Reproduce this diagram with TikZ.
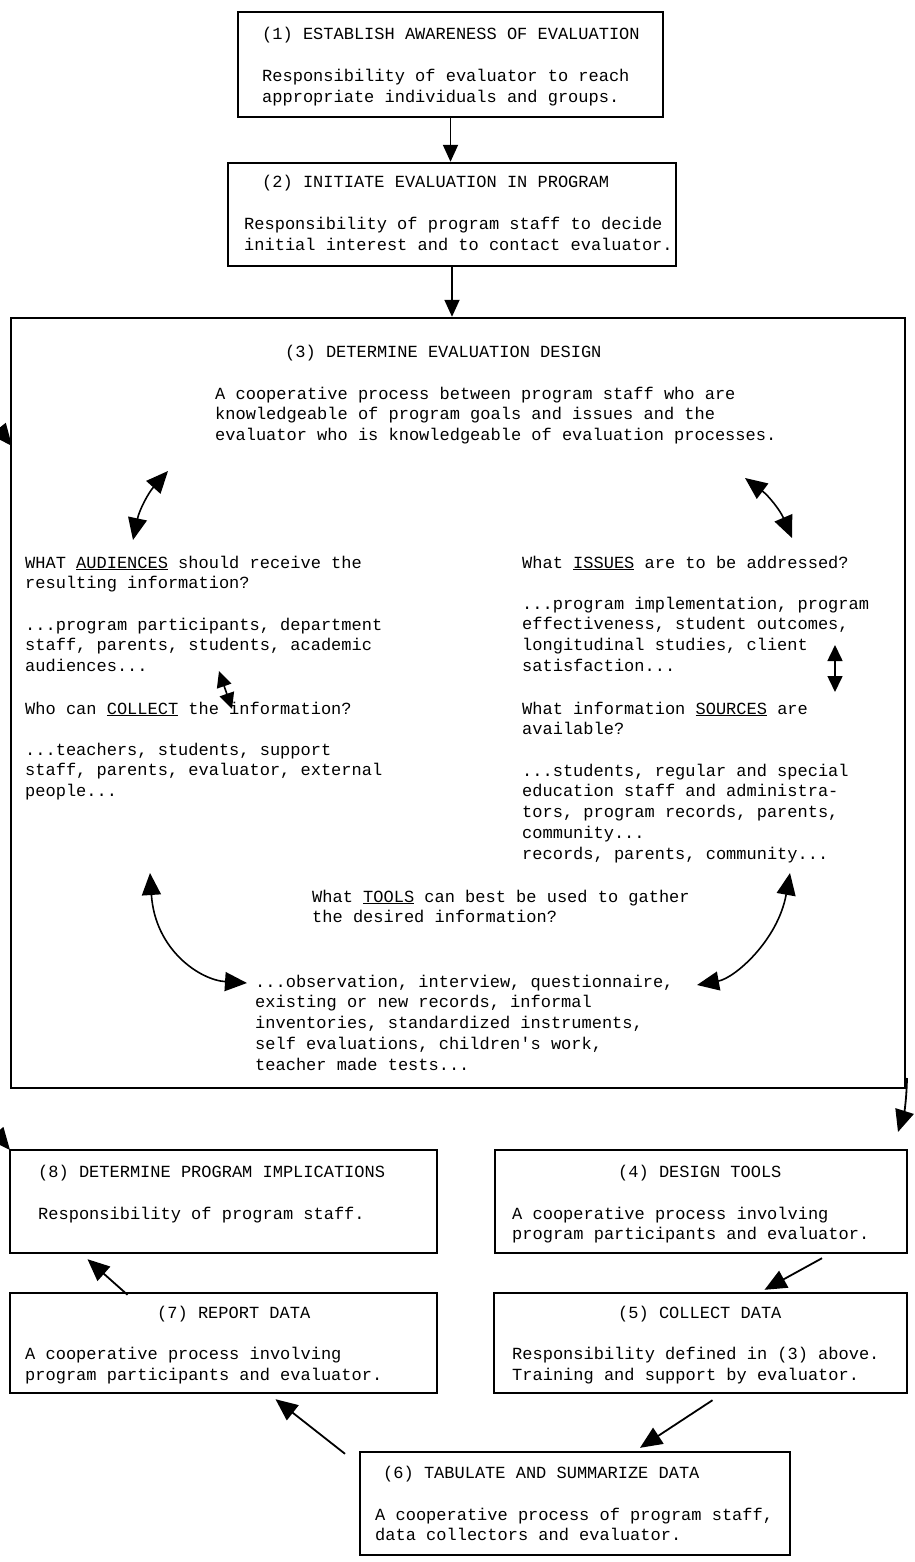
\documentclass[tikz,border=0pt]{standalone}
\usepackage{fontspec}
\newfontfamily\tw{Liberation Mono}
\usetikzlibrary{arrows.meta,calc}
\begin{document}
\begin{tikzpicture}[x=1pt,y=-1pt,
  boxst/.style={draw,line width=2.4pt,inner sep=0pt},
  txt/.style={font=\tw\fontsize{17}{20.8}\selectfont, anchor=base west, inner sep=0pt, align=left},
  flow/.style={line width=1.8pt, -{Triangle[length=17pt,width=15pt]}},
  bigflow/.style={line width=1.8pt, -{Triangle[length=22pt,width=19pt]}},
  dbl/.style={line width=1.6pt, {Triangle[length=22pt,width=19pt]}-{Triangle[length=22pt,width=19pt]}},
  sdbl/.style={line width=1.6pt, {Triangle[length=16pt,width=15pt]}-{Triangle[length=16pt,width=15pt]}},
]
\useasboundingbox (0,0) rectangle (914,1562);
\clip (0,0) rectangle (914,1562);

% boxes
\node[boxst, minimum width=425pt, minimum height=105pt] (b1) at (450.5,64.5) {};
\node[boxst, minimum width=448pt, minimum height=103pt] (b2) at (452,214.5) {};
\node[boxst, minimum width=894pt, minimum height=770pt] (b3) at (458,703) {};
\node[boxst, minimum width=427pt, minimum height=103pt] (b8) at (223.5,1201.5) {};
\node[boxst, minimum width=412pt, minimum height=103pt] (b4) at (701,1201.5) {};
\node[boxst, minimum width=427pt, minimum height=100pt] (b7) at (223.5,1343) {};
\node[boxst, minimum width=413pt, minimum height=100pt] (b5) at (700.5,1343) {};
\node[boxst, minimum width=430pt, minimum height=103pt] (b6) at (575,1503.5) {};

% box 1 (multi-line nodes are placed at the baseline of their last line)
\node[txt] (t1a) at (262,40) {(1) ESTABLISH AWARENESS OF EVALUATION};
\node[txt] (t1b) at (262,102.8) {Responsibility of evaluator to reach\\appropriate individuals and groups.};
% box 2
\node[txt] (t2a) at (262,188) {(2) INITIATE EVALUATION IN PROGRAM};
\node[txt] (t2b) at (244,250.8) {Responsibility of program staff to decide\\initial interest and to contact evaluator.};
% box 3
\node[txt] (t3a) at (285,357) {(3) DETERMINE EVALUATION DESIGN};
\node[txt] (t3b) at (215,440.6) {A cooperative process between program staff who are\\knowledgeable of program goals and issues and the\\evaluator who is knowledgeable of evaluation processes.};
\node[txt] (t3c) at (25,588.8) {WHAT \underline{AUDIENCES} should receive the\\resulting information?};
\node[txt] (t3d) at (25,671.6) {...program participants, department\\staff, parents, students, academic\\audiences...};
\node[txt] (t3e) at (25,714) {Who can \underline{COLLECT} the information?};
\node[txt] (t3f) at (25,796.6) {...teachers, students, support\\staff, parents, evaluator, external\\people...};
\node[txt] (t3g) at (522,568) {What \underline{ISSUES} are to be addressed?};
\node[txt] (t3h) at (522,671.4) {...program implementation, program\\effectiveness, student outcomes,\\longitudinal studies, client\\satisfaction...};
\node[txt] (t3i) at (522,734.8) {What information \underline{SOURCES} are\\available?};
\node[txt] (t3j) at (522,859.2) {...students, regular and special\\education staff and administra-\\tors, program records, parents,\\community...\\records, parents, community...};
\node[txt] (t3k) at (312,922.8) {What \underline{TOOLS} can best be used to gather\\the desired information?};
\node[txt] (t3l) at (255,1070.2) {...observation, interview, questionnaire,\\existing or new records, informal\\inventories, standardized instruments,\\self evaluations, children's work,\\teacher made tests...};
% lower boxes
\node[txt] (t8a) at (38,1177) {(8) DETERMINE PROGRAM IMPLICATIONS};
\node[txt] (t8b) at (38,1219) {Responsibility of program staff.};
\node[txt] (t4a) at (618,1177) {(4) DESIGN TOOLS};
\node[txt] (t4b) at (512,1239.8) {A cooperative process involving\\program participants and evaluator.};
\node[txt] (t7a) at (157,1318) {(7) REPORT DATA};
\node[txt] (t7b) at (25,1380.6) {A cooperative process involving\\program participants and evaluator.};
\node[txt] (t5a) at (618,1318) {(5) COLLECT DATA};
\node[txt] (t5b) at (512,1380.6) {Responsibility defined in (3) above.\\Training and support by evaluator.};
\node[txt] (t6a) at (383,1478) {(6) TABULATE AND SUMMARIZE DATA};
\node[txt] (t6b) at (375,1540.8) {A cooperative process of program staff,\\data collectors and evaluator.};

% main flow arrows
\draw[flow] (b1.south) -- (b1.south |- b2.north);
\draw[flow] (b2.south) -- (b2.south |- b3.north);

% inner double arrows of box 3
\coordinate (a1s) at (133,540); \coordinate (a1e) at (168,471);
\draw[dbl] (a1s) to[bend left=15] (a1e);
\coordinate (a2s) at (745,478); \coordinate (a2e) at (792,538);
\draw[dbl] (a2s) to[bend left=15] (a2e);
\coordinate (a3s) at (219,671); \coordinate (a3e) at (232,709);
\draw[sdbl] (a3s) -- (a3e);
\coordinate (a4s) at (835,645); \coordinate (a4e) at (835,692);
\draw[sdbl] (a4s) -- (a4e);
\coordinate (a5s) at (150,873); \coordinate (a5e) at (247,983);
\draw[dbl] (a5s) .. controls (155,950) and (200,980) .. (a5e);
\coordinate (a6s) at (790,873); \coordinate (a6e) at (697,985);
\draw[dbl] (a6s) .. controls (778,940) and (735,978) .. (a6e);

% arrows leaving / entering at the page edges
\coordinate (l1) at (-25,400); \coordinate (l2) at (12,446);
\draw[bigflow] (l1) -- (l2);
\coordinate (l3) at (-25,1108); \coordinate (l4) at (10,1150);
\draw[bigflow] (l3) -- (l4);
\coordinate (r1) at (907,1078); \coordinate (r2) at (898,1132);
\draw[bigflow] (r1) to[bend left=8] (r2);

% lower flow arrows
\draw[bigflow] ([xshift=121pt,yshift=-4pt]b4.south) -- ([xshift=64pt,yshift=2pt]b5.north);
\draw[bigflow] ([xshift=12pt,yshift=-6pt]b5.south) -- ([xshift=65pt,yshift=3pt]b6.north);
\draw[bigflow] ([xshift=-230pt,yshift=-3pt]b6.north) -- ([xshift=52pt,yshift=-5pt]b7.south);
\draw[bigflow] ([xshift=-96pt,yshift=-3pt]b7.north) -- ([xshift=-136pt,yshift=-5pt]b8.south);
\end{tikzpicture}
\end{document}
